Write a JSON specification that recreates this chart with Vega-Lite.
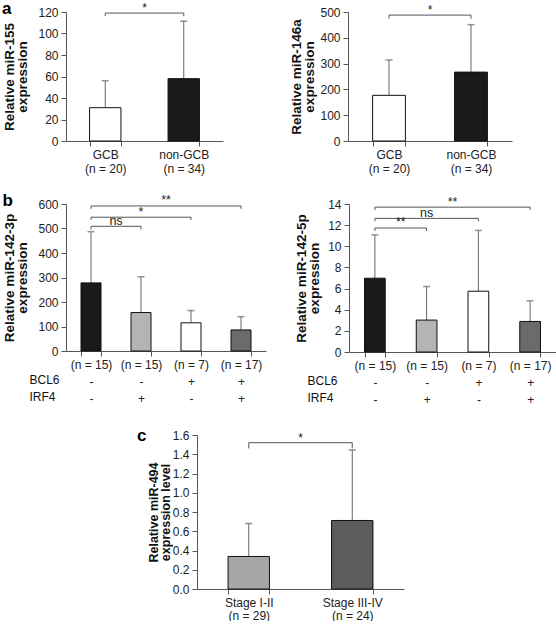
{
  "$schema": "https://vega.github.io/schema/vega-lite/v6.json",
  "background": "white",
  "padding": {"left": 2, "top": 0, "right": 0, "bottom": 0},
  "config": {
    "font": "Liberation Sans",
    "view": {"stroke": null},
    "axis": {
      "labelFont": "Liberation Sans", "labelFontSize": 12, "labelColor": "#222",
      "domainColor": "#555", "tickColor": "#555", "tickSize": 5, "grid": false,
      "titleFont": "Liberation Sans", "titleFontSize": 13.5, "titleFontWeight": "bold", "titleColor": "#111"
    },
    "axisX": {"labelAngle": 0, "labelPadding": 3, "tickBand": "extent"},
    "axisY": {"titleLineHeight": 13, "titleBaseline": "alphabetic", "labelPadding": 3},
    "title": {"anchor": "start", "frame": "bounds", "fontSize": 17, "fontWeight": "bold", "color": "#000", "offset": -16}
  },
  "resolve": {"scale": {"color": "independent"}},
  "align": "none",
  "spacing": 18,
  "vconcat": [
    {
      "spacing": 65,
      "align": "none",
      "resolve": {"scale": {"color": "independent"}},
      "hconcat": [
        {
          "title": {"text": "a"},
          "width": 157, "height": 129,
          "resolve": {"scale": {"x": "independent"}},
          "layer": [
            {
              "data": {"values": [
                {"label": "GCB|(n = 20)", "mean": 31, "upper": 56},
                {"label": "non-GCB|(n = 34)", "mean": 58, "upper": 111.5}
              ]},
              "encoding": {
                "x": {"field": "label", "type": "nominal", "sort": null,
                  "scale": {"paddingInner": 0.6, "paddingOuter": 0.3},
                  "axis": {"title": null, "labelExpr": "split(datum.label, '|')", "labelLineHeight": 14}}
              },
              "layer": [
                {"mark": {"type": "rule", "color": "#666"},
                 "encoding": {"y": {"field": "mean", "type": "quantitative", "scale": {"domain": [0, 120]}, "axis": {"values": [0, 20, 40, 60, 80, 100, 120], "titleX": -53, "title": ["Relative miR-155", "expression"]}}, "y2": {"field": "upper"}}},
                {"mark": {"type": "tick", "color": "#666", "size": 7, "thickness": 1.5},
                 "encoding": {"y": {"field": "upper", "type": "quantitative", "scale": {"domain": [0, 120]}, "axis": {"values": [0, 20, 40, 60, 80, 100, 120], "titleX": -53, "title": ["Relative miR-155", "expression"]}}}},
                {"mark": {"type": "bar", "stroke": "#111", "strokeWidth": 1},
                 "encoding": {
                   "y": {"field": "mean", "type": "quantitative", "scale": {"domain": [0, 120]},
                     "axis": {"values": [0, 20, 40, 60, 80, 100, 120], "titleX": -53, "title": ["Relative miR-155", "expression"]}},
                   "color": {"field": "label", "type": "nominal", "legend": null,
                     "scale": {"domain": ["GCB|(n = 20)", "non-GCB|(n = 34)"], "range": ["#ffffff", "#1a1a1a"]}}
                 }}
              ]
            },
            {
              "data": {"values": [
                {"from": 1, "to": 2, "mid": 1.5, "y": 119, "yt": 116.2, "label": "*"}
              ]},
              "encoding": {
                "y": {"field": "y", "type": "quantitative", "axis": {"values": [0, 20, 40, 60, 80, 100, 120], "titleX": -53, "title": ["Relative miR-155", "expression"]}}
              },
              "layer": [
                {"mark": {"type": "rule", "color": "#555"},
                 "encoding": {"x": {"field": "from", "type": "quantitative", "scale": {"domain": [0.5, 2.5], "nice": false, "zero": false}, "axis": null},
                   "x2": {"field": "to"}}},
                {"mark": {"type": "rule", "color": "#555"},
                 "encoding": {"x": {"field": "from", "type": "quantitative", "axis": null}, "y2": {"field": "yt"}}},
                {"mark": {"type": "rule", "color": "#555"},
                 "encoding": {"x": {"field": "to", "type": "quantitative", "axis": null}, "y2": {"field": "yt"}}},
                {"mark": {"type": "text", "baseline": "alphabetic", "dy": -1, "fontSize": 12, "color": "#222"},
                 "encoding": {"x": {"field": "mid", "type": "quantitative", "axis": null}, "text": {"field": "label"}}}
              ]
            }
          ]
        },
        {
          "width": 164, "height": 129,
          "resolve": {"scale": {"x": "independent"}},
          "layer": [
            {
              "data": {"values": [
                {"label": "GCB|(n = 20)", "mean": 177, "upper": 314},
                {"label": "non-GCB|(n = 34)", "mean": 267, "upper": 451}
              ]},
              "encoding": {
                "x": {"field": "label", "type": "nominal", "sort": null,
                  "scale": {"paddingInner": 0.6, "paddingOuter": 0.3},
                  "axis": {"title": null, "labelExpr": "split(datum.label, '|')", "labelLineHeight": 14}}
              },
              "layer": [
                {"mark": {"type": "rule", "color": "#666"},
                 "encoding": {"y": {"field": "mean", "type": "quantitative", "scale": {"domain": [0, 500]}, "axis": {"values": [0, 100, 200, 300, 400, 500], "titleX": -48, "title": ["Relative miR-146a", "expression"]}}, "y2": {"field": "upper"}}},
                {"mark": {"type": "tick", "color": "#666", "size": 7, "thickness": 1.5},
                 "encoding": {"y": {"field": "upper", "type": "quantitative", "scale": {"domain": [0, 500]}, "axis": {"values": [0, 100, 200, 300, 400, 500], "titleX": -48, "title": ["Relative miR-146a", "expression"]}}}},
                {"mark": {"type": "bar", "stroke": "#111", "strokeWidth": 1},
                 "encoding": {
                   "y": {"field": "mean", "type": "quantitative", "scale": {"domain": [0, 500]},
                     "axis": {"values": [0, 100, 200, 300, 400, 500], "titleX": -48, "title": ["Relative miR-146a", "expression"]}},
                   "color": {"field": "label", "type": "nominal", "legend": null,
                     "scale": {"domain": ["GCB|(n = 20)", "non-GCB|(n = 34)"], "range": ["#ffffff", "#1a1a1a"]}}
                 }}
              ]
            },
            {
              "data": {"values": [
                {"from": 1, "to": 2, "mid": 1.5, "y": 488, "yt": 474, "label": "*"}
              ]},
              "encoding": {
                "y": {"field": "y", "type": "quantitative", "axis": {"values": [0, 100, 200, 300, 400, 500], "titleX": -48, "title": ["Relative miR-146a", "expression"]}}
              },
              "layer": [
                {"mark": {"type": "rule", "color": "#555"},
                 "encoding": {"x": {"field": "from", "type": "quantitative", "scale": {"domain": [0.5, 2.5], "nice": false, "zero": false}, "axis": null},
                   "x2": {"field": "to"}}},
                {"mark": {"type": "rule", "color": "#555"},
                 "encoding": {"x": {"field": "from", "type": "quantitative", "axis": null}, "y2": {"field": "yt"}}},
                {"mark": {"type": "rule", "color": "#555"},
                 "encoding": {"x": {"field": "to", "type": "quantitative", "axis": null}, "y2": {"field": "yt"}}},
                {"mark": {"type": "text", "baseline": "alphabetic", "dy": -1, "fontSize": 12, "color": "#222"},
                 "encoding": {"x": {"field": "mid", "type": "quantitative", "axis": null}, "text": {"field": "label"}}}
              ]
            }
          ]
        }
      ]
    },
    {
      "spacing": 22,
      "align": "none",
      "resolve": {"scale": {"color": "independent"}},
      "vconcat": [
        {
          "spacing": 28,
          "align": "none",
          "resolve": {"scale": {"color": "independent"}},
          "hconcat": [
            {
              "title": {"text": "b"},
              "width": 200, "height": 147,
              "resolve": {"scale": {"x": "independent"}},
              "layer": [
                {
                  "data": {"values": [
                    {"label": "(n = 15)|-|-", "mean": 278, "upper": 487},
                    {"label": "(n = 15)|-|+", "mean": 157, "upper": 303},
                    {"label": "(n = 7)|+|-", "mean": 115, "upper": 165},
                    {"label": "(n = 17)|+|+", "mean": 86, "upper": 140}
                  ]},
                  "encoding": {
                    "x": {"field": "label", "type": "nominal", "sort": null,
                      "scale": {"paddingInner": 0.6, "paddingOuter": 0.3},
                      "axis": {"labelExpr": "split(datum.label, '|')", "labelLineHeight": 17,
                        "title": ["BCL6", "IRF4"], "titleFontWeight": "normal", "titleFontSize": 12, "titleLineHeight": 17,
                        "titleAngle": 0, "titleAlign": "left", "titleBaseline": "top", "titleAnchor": null, "titleX": -37, "titleY": 23}}
                  },
                  "layer": [
                    {"mark": {"type": "rule", "color": "#666"},
                     "encoding": {"y": {"field": "mean", "type": "quantitative", "scale": {"domain": [0, 600]}, "axis": {"values": [0, 100, 200, 300, 400, 500, 600], "titleX": -52.5, "title": ["Relative miR-142-3p", "expression"]}}, "y2": {"field": "upper"}}},
                    {"mark": {"type": "tick", "color": "#666", "size": 7, "thickness": 1.5},
                     "encoding": {"y": {"field": "upper", "type": "quantitative", "scale": {"domain": [0, 600]}, "axis": {"values": [0, 100, 200, 300, 400, 500, 600], "titleX": -52.5, "title": ["Relative miR-142-3p", "expression"]}}}},
                    {"mark": {"type": "bar", "stroke": "#111", "strokeWidth": 1},
                     "encoding": {
                       "y": {"field": "mean", "type": "quantitative", "scale": {"domain": [0, 600]},
                         "axis": {"values": [0, 100, 200, 300, 400, 500, 600], "titleX": -52.5, "title": ["Relative miR-142-3p", "expression"]}},
                       "color": {"field": "label", "type": "nominal", "legend": null,
                         "scale": {"domain": ["(n = 15)|-|-", "(n = 15)|-|+", "(n = 7)|+|-", "(n = 17)|+|+"], "range": ["#1a1a1a", "#b4b4b4", "#ffffff", "#6b6b6b"]}}
                     }}
                  ]
                },
                {
                  "data": {"values": [
                    {"from": 1, "to": 4, "mid": 2.5, "y": 592, "yt": 580, "label": "**"},
                    {"from": 1, "to": 3, "mid": 2, "y": 546, "yt": 535, "label": "*"},
                    {"from": 1, "to": 2, "mid": 1.5, "y": 509, "yt": 496, "label": "ns"}
                  ]},
                  "encoding": {
                    "y": {"field": "y", "type": "quantitative", "axis": {"values": [0, 100, 200, 300, 400, 500, 600], "titleX": -52.5, "title": ["Relative miR-142-3p", "expression"]}}
                  },
                  "layer": [
                    {"mark": {"type": "rule", "color": "#555"},
                     "encoding": {"x": {"field": "from", "type": "quantitative", "scale": {"domain": [0.5, 4.5], "nice": false, "zero": false}, "axis": null},
                       "x2": {"field": "to"}}},
                    {"mark": {"type": "rule", "color": "#555"},
                     "encoding": {"x": {"field": "from", "type": "quantitative", "axis": null}, "y2": {"field": "yt"}}},
                    {"mark": {"type": "rule", "color": "#555"},
                     "encoding": {"x": {"field": "to", "type": "quantitative", "axis": null}, "y2": {"field": "yt"}}},
                    {"mark": {"type": "text", "baseline": "alphabetic", "dy": -1.5, "fontSize": 12.5, "color": "#222"},
                     "encoding": {"x": {"field": "mid", "type": "quantitative", "axis": null}, "text": {"field": "label"}}}
                  ]
                }
              ]
            },
            {
              "width": 207, "height": 148,
              "resolve": {"scale": {"x": "independent"}},
              "layer": [
                {
                  "data": {"values": [
                    {"label": "(n = 15)|-|-", "mean": 6.98, "upper": 11.07},
                    {"label": "(n = 15)|-|+", "mean": 3.02, "upper": 6.19},
                    {"label": "(n = 7)|+|-", "mean": 5.75, "upper": 11.5},
                    {"label": "(n = 17)|+|+", "mean": 2.89, "upper": 4.84}
                  ]},
                  "encoding": {
                    "x": {"field": "label", "type": "nominal", "sort": null,
                      "scale": {"paddingInner": 0.6, "paddingOuter": 0.3},
                      "axis": {"labelExpr": "split(datum.label, '|')", "labelLineHeight": 17,
                        "title": ["BCL6", "IRF4"], "titleFontWeight": "normal", "titleFontSize": 12, "titleLineHeight": 17,
                        "titleAngle": 0, "titleAlign": "left", "titleBaseline": "top", "titleAnchor": null, "titleX": -42, "titleY": 23}}
                  },
                  "layer": [
                    {"mark": {"type": "rule", "color": "#666"},
                     "encoding": {"y": {"field": "mean", "type": "quantitative", "scale": {"domain": [0, 14]}, "axis": {"values": [0, 2, 4, 6, 8, 10, 12, 14], "titleX": -43.5, "title": ["Relative miR-142-5p", "expression"]}}, "y2": {"field": "upper"}}},
                    {"mark": {"type": "tick", "color": "#666", "size": 7, "thickness": 1.5},
                     "encoding": {"y": {"field": "upper", "type": "quantitative", "scale": {"domain": [0, 14]}, "axis": {"values": [0, 2, 4, 6, 8, 10, 12, 14], "titleX": -43.5, "title": ["Relative miR-142-5p", "expression"]}}}},
                    {"mark": {"type": "bar", "stroke": "#111", "strokeWidth": 1},
                     "encoding": {
                       "y": {"field": "mean", "type": "quantitative", "scale": {"domain": [0, 14]},
                         "axis": {"values": [0, 2, 4, 6, 8, 10, 12, 14], "titleX": -43.5, "title": ["Relative miR-142-5p", "expression"]}},
                       "color": {"field": "label", "type": "nominal", "legend": null,
                         "scale": {"domain": ["(n = 15)|-|-", "(n = 15)|-|+", "(n = 7)|+|-", "(n = 17)|+|+"], "range": ["#1a1a1a", "#b4b4b4", "#ffffff", "#6b6b6b"]}}
                     }}
                  ]
                },
                {
                  "data": {"values": [
                    {"from": 1, "to": 4, "mid": 2.5, "y": 13.7, "yt": 13.43, "label": "**"},
                    {"from": 1, "to": 3, "mid": 2, "y": 12.64, "yt": 12.36, "label": "ns"},
                    {"from": 1, "to": 2, "mid": 1.5, "y": 11.73, "yt": 11.45, "label": "**"}
                  ]},
                  "encoding": {
                    "y": {"field": "y", "type": "quantitative", "axis": {"values": [0, 2, 4, 6, 8, 10, 12, 14], "titleX": -43.5, "title": ["Relative miR-142-5p", "expression"]}}
                  },
                  "layer": [
                    {"mark": {"type": "rule", "color": "#555"},
                     "encoding": {"x": {"field": "from", "type": "quantitative", "scale": {"domain": [0.5, 4.5], "nice": false, "zero": false}, "axis": null},
                       "x2": {"field": "to"}}},
                    {"mark": {"type": "rule", "color": "#555"},
                     "encoding": {"x": {"field": "from", "type": "quantitative", "axis": null}, "y2": {"field": "yt"}}},
                    {"mark": {"type": "rule", "color": "#555"},
                     "encoding": {"x": {"field": "to", "type": "quantitative", "axis": null}, "y2": {"field": "yt"}}},
                    {"mark": {"type": "text", "baseline": "alphabetic", "dy": -1.5, "fontSize": 12.5, "color": "#222"},
                     "encoding": {"x": {"field": "mid", "type": "quantitative", "axis": null}, "text": {"field": "label"}}}
                  ]
                }
              ]
            }
          ]
        },
        {
          "spacing": 0,
          "align": "none",
          "resolve": {"scale": {"color": "independent"}},
          "hconcat": [
            {"width": 71, "height": 10, "data": {"values": []}, "mark": "point", "encoding": {}},
            {
              "title": {"text": "c", "dx": -10},
              "width": 207, "height": 154,
              "resolve": {"scale": {"x": "independent"}},
              "layer": [
                {
                  "data": {"values": [
                    {"label": "Stage I-II|(n = 29)", "mean": 0.338, "upper": 0.68},
                    {"label": "Stage III-IV|(n = 24)", "mean": 0.712, "upper": 1.444}
                  ]},
                  "encoding": {
                    "x": {"field": "label", "type": "nominal", "sort": null,
                      "scale": {"paddingInner": 0.6, "paddingOuter": 0.3},
                      "axis": {"title": null, "labelExpr": "split(datum.label, '|')", "labelLineHeight": 13}}
                  },
                  "layer": [
                    {"mark": {"type": "rule", "color": "#666"},
                     "encoding": {"y": {"field": "mean", "type": "quantitative", "scale": {"domain": [0, 1.6]}, "axis": {"values": [0, 0.2, 0.4, 0.6, 0.8, 1.0, 1.2, 1.4, 1.6], "format": ".1f", "titleFontSize": 12.5, "titleLineHeight": 12, "titleX": -40, "title": ["Relative miR-494", "expression level"]}}, "y2": {"field": "upper"}}},
                    {"mark": {"type": "tick", "color": "#666", "size": 7, "thickness": 1.5},
                     "encoding": {"y": {"field": "upper", "type": "quantitative", "scale": {"domain": [0, 1.6]}, "axis": {"values": [0, 0.2, 0.4, 0.6, 0.8, 1.0, 1.2, 1.4, 1.6], "format": ".1f", "titleFontSize": 12.5, "titleLineHeight": 12, "titleX": -40, "title": ["Relative miR-494", "expression level"]}}}},
                    {"mark": {"type": "bar", "stroke": "#111", "strokeWidth": 1},
                     "encoding": {
                       "y": {"field": "mean", "type": "quantitative", "scale": {"domain": [0, 1.6]},
                         "axis": {"values": [0, 0.2, 0.4, 0.6, 0.8, 1.0, 1.2, 1.4, 1.6], "format": ".1f", "titleFontSize": 12.5, "titleLineHeight": 12, "titleX": -40, "title": ["Relative miR-494", "expression level"]}},
                       "color": {"field": "label", "type": "nominal", "legend": null,
                         "scale": {"domain": ["Stage I-II|(n = 29)", "Stage III-IV|(n = 24)"], "range": ["#a6a6a6", "#5c5c5c"]}}
                     }}
                  ]
                },
                {
                  "data": {"values": [
                    {"from": 1, "to": 2, "mid": 1.5, "y": 1.52, "yt": 1.461, "label": "*"}
                  ]},
                  "encoding": {
                    "y": {"field": "y", "type": "quantitative", "axis": {"values": [0, 0.2, 0.4, 0.6, 0.8, 1.0, 1.2, 1.4, 1.6], "format": ".1f", "titleFontSize": 12.5, "titleLineHeight": 12, "titleX": -40, "title": ["Relative miR-494", "expression level"]}}
                  },
                  "layer": [
                    {"mark": {"type": "rule", "color": "#555"},
                     "encoding": {"x": {"field": "from", "type": "quantitative", "scale": {"domain": [0.5, 2.5], "nice": false, "zero": false}, "axis": null},
                       "x2": {"field": "to"}}},
                    {"mark": {"type": "rule", "color": "#555"},
                     "encoding": {"x": {"field": "from", "type": "quantitative", "axis": null}, "y2": {"field": "yt"}}},
                    {"mark": {"type": "rule", "color": "#555"},
                     "encoding": {"x": {"field": "to", "type": "quantitative", "axis": null}, "y2": {"field": "yt"}}},
                    {"mark": {"type": "text", "baseline": "alphabetic", "dy": -1, "fontSize": 12, "color": "#222"},
                     "encoding": {"x": {"field": "mid", "type": "quantitative", "axis": null}, "text": {"field": "label"}}}
                  ]
                }
              ]
            }
          ]
        }
      ]
    }
  ]
}
